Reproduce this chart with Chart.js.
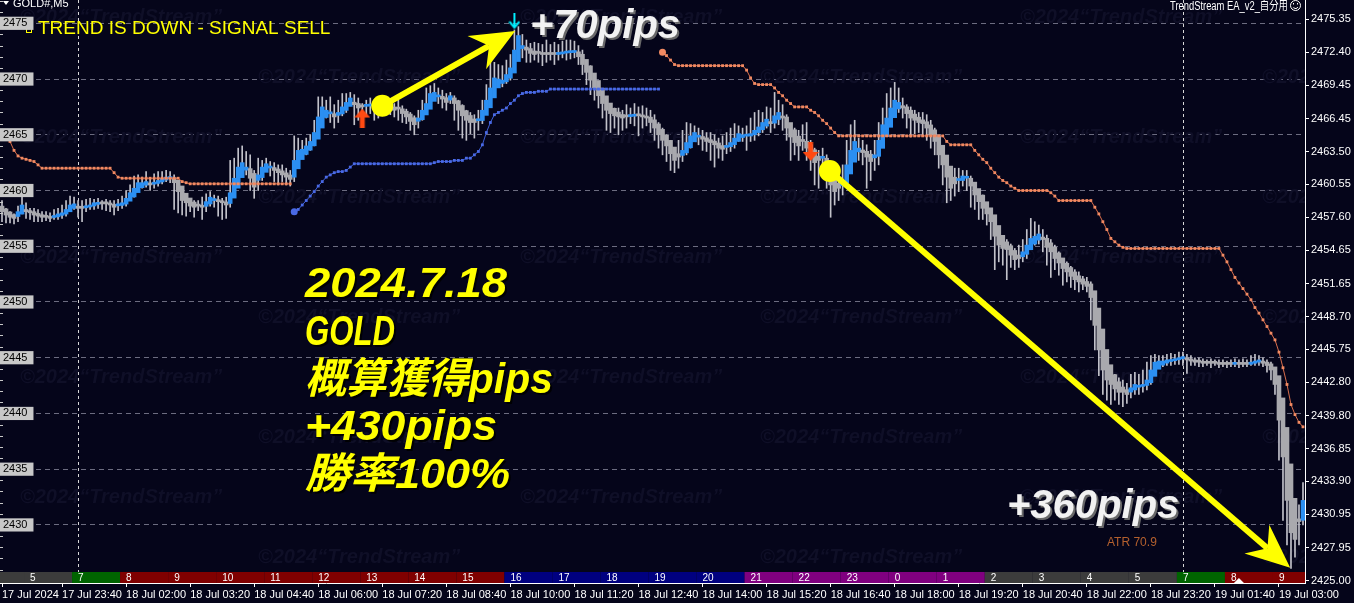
<!DOCTYPE html>
<html>
<head>
<meta charset="utf-8">
<script src="https://cdn.jsdelivr.net/npm/chart.js@4.4.1/dist/chart.umd.min.js"></script>
<style>
  html, body { margin: 0; padding: 0; background: #05051a; overflow: hidden; }
</style>
</head>
<body>
<canvas id="chart" width="1354" height="603"></canvas>
<script>
// GOLD#, M5 — 18 Jul 2024, one entry per 5-minute bar (Heiken-Ashi bodies)
const firstOpen = 2458.6;
const closes = [
  2458.1,2457.8,2457.6,2457.5,2458.1,2458.7,2458.1,2458.0,2457.8,2457.7,
  2457.6,2457.6,2457.5,2457.7,2457.9,2458.0,2458.3,2458.7,2458.8,2458.4,
  2458.4,2458.6,2458.7,2458.9,2458.9,2458.8,2458.8,2458.7,2458.5,2458.7,
  2458.9,2459.3,2459.8,2460.2,2460.7,2460.7,2460.8,2460.5,2460.7,2460.9,
  2461.1,2461.2,2461.2,2460.7,2459.9,2459.1,2458.9,2458.6,2458.5,2458.6,
  2458.5,2459.0,2459.4,2459.1,2459.0,2458.9,2458.7,2459.8,2461.1,2462.1,
  2462.5,2462.1,2461.1,2460.3,2461.4,2462.1,2462.4,2462.1,2461.8,2461.6,
  2461.4,2461.2,2461.0,2462.7,2463.6,2463.7,2464.0,2464.4,2465.2,2466.6,
  2467.5,2467.2,2466.9,2466.6,2467.0,2467.5,2467.9,2468.3,2467.7,2467.4,
  2467.5,2467.6,2467.7,2467.4,2467.2,2467.4,2467.6,2467.5,2467.2,2467.3,
  2466.9,2466.6,2466.2,2465.9,2466.5,2467.2,2467.8,2468.7,2468.8,2468.5,
  2468.2,2467.9,2468.5,2467.8,2467.2,2466.7,2466.3,2466.1,2466.1,2466.3,
  2467.2,2468.1,2469.2,2470.1,2470.0,2469.9,2470.4,2471.0,2472.6,2473.9,
  2473.0,2472.6,2472.3,2472.2,2472.3,2472.2,2472.2,2472.2,2472.2,2472.3,
  2472.4,2472.4,2472.4,2472.5,2472.0,2471.3,2470.6,2469.9,2469.2,2468.5,
  2467.8,2467.2,2466.9,2466.7,2466.6,2466.5,2466.6,2466.7,2466.8,2466.7,
  2466.6,2466.5,2466.1,2465.6,2465.0,2464.5,2464.0,2463.3,2462.7,2463.0,
  2463.6,2464.3,2464.9,2465.2,2464.9,2464.6,2464.4,2464.3,2464.1,2463.8,
  2463.7,2464.0,2464.3,2464.7,2465.1,2465.0,2464.9,2465.1,2465.4,2465.7,
  2466.1,2466.4,2466.0,2466.7,2467.0,2466.5,2465.6,2464.8,2464.3,2464.0,
  2464.4,2463.8,2463.2,2462.5,2462.7,2462.9,2461.8,2460.5,2459.9,2460.2,
  2460.9,2462.3,2463.6,2464.4,2463.8,2463.4,2463.0,2462.6,2463.2,2464.5,
  2465.9,2466.5,2467.4,2468.1,2467.9,2467.4,2466.9,2466.5,2466.3,2466.1,
  2466.0,2465.6,2465.0,2464.4,2463.2,2462.3,2461.2,2460.2,2460.6,2460.9,
  2461.3,2461.1,2460.4,2459.6,2459.0,2458.4,2457.9,2457.2,2455.9,2455.1,
  2454.8,2454.7,2454.2,2453.8,2453.9,2454.5,2455.1,2455.7,2455.9,2456.1,
  2455.6,2454.9,2454.5,2453.9,2453.5,2453.0,2452.7,2452.3,2452.0,2451.8,
  2451.6,2451.4,2450.4,2447.9,2445.7,2443.9,2443.0,2442.6,2442.2,2441.9,
  2441.9,2441.7,2442.3,2442.6,2442.5,2442.6,2443.0,2443.9,2444.6,2444.7,
  2444.7,2444.8,2444.8,2444.9,2445.0,2445.1,2444.8,2444.7,2444.6,2444.6,
  2444.5,2444.5,2444.5,2444.5,2444.4,2444.4,2444.4,2444.4,2444.5,2444.4,
  2444.4,2444.4,2444.6,2444.7,2444.8,2444.5,2444.3,2443.9,2442.6,2439.4,
  2436.1,2432.2,2429.3,2428.7,2430.3,2432.2
];
const highs = [
  2459.1,2458.4,2458.1,2457.9,2458.6,2460.3,2458.9,2458.4,2458.4,2458.3,
  2458.1,2458.1,2458.0,2458.3,2458.4,2458.7,2459.1,2459.5,2459.4,2459.1,
  2459.1,2459.2,2459.3,2459.2,2459.3,2459.1,2459.2,2459.1,2459.1,2459.2,
  2459.5,2460.0,2460.5,2461.3,2461.4,2461.2,2461.7,2461.1,2461.5,2461.7,
  2461.7,2461.8,2461.7,2461.4,2460.9,2460.0,2459.6,2459.3,2459.1,2459.1,
  2459.4,2459.7,2459.9,2459.6,2459.5,2459.3,2459.4,2462.7,2462.9,2463.8,
  2464.0,2463.5,2463.2,2461.8,2462.9,2462.7,2462.9,2462.6,2462.5,2462.3,
  2462.3,2462.0,2461.8,2464.9,2464.7,2464.5,2464.7,2465.0,2466.3,2468.4,
  2468.4,2468.1,2468.4,2467.7,2468.1,2468.7,2468.7,2468.8,2468.6,2468.3,
  2467.8,2468.1,2468.3,2468.1,2468.0,2467.9,2468.1,2468.0,2467.8,2468.1,
  2467.6,2467.3,2467.0,2466.7,2467.2,2468.1,2469.2,2469.4,2469.6,2469.2,
  2469.0,2468.7,2468.8,2468.5,2468.1,2467.7,2467.2,2467.0,2466.8,2467.2,
  2468.1,2469.5,2471.9,2471.5,2471.3,2471.2,2471.7,2472.2,2474.4,2474.7,
  2474.0,2473.5,2473.2,2473.3,2473.2,2473.1,2473.5,2473.1,2473.3,2473.1,
  2473.4,2473.5,2473.5,2473.4,2473.0,2472.6,2471.7,2471.2,2470.4,2469.5,
  2468.8,2468.1,2467.7,2467.4,2467.4,2467.2,2467.7,2467.4,2467.8,2467.5,
  2467.6,2467.4,2467.2,2466.8,2466.1,2465.6,2465.0,2464.5,2463.8,2464.5,
  2465.4,2466.1,2466.0,2465.8,2465.6,2465.4,2465.2,2465.2,2465.0,2464.7,
  2464.9,2465.2,2465.6,2466.0,2465.8,2465.6,2465.8,2466.5,2467.0,2467.2,
  2467.0,2467.5,2467.4,2468.8,2468.1,2467.7,2466.8,2465.9,2465.6,2465.4,
  2465.9,2466.1,2464.5,2463.8,2463.6,2463.8,2463.2,2462.3,2461.4,2461.8,
  2462.3,2464.5,2465.9,2466.3,2464.7,2464.5,2464.1,2463.6,2464.5,2466.1,
  2467.4,2468.7,2469.2,2469.7,2469.2,2468.3,2467.7,2467.5,2467.2,2467.0,
  2467.0,2466.8,2466.3,2465.6,2464.5,2463.6,2462.7,2461.4,2462.0,2462.0,
  2461.8,2461.8,2461.3,2460.5,2460.0,2459.6,2458.7,2458.3,2457.2,2456.3,
  2455.7,2455.6,2455.2,2454.8,2455.1,2455.6,2456.5,2457.5,2457.2,2456.9,
  2456.5,2456.0,2455.6,2455.1,2454.5,2453.9,2453.6,2453.2,2452.9,2452.7,
  2452.3,2452.2,2451.8,2450.5,2448.4,2446.1,2444.6,2443.7,2443.5,2443.2,
  2443.0,2442.7,2443.5,2443.7,2443.5,2443.9,2444.6,2445.2,2445.3,2445.2,
  2445.2,2445.3,2445.4,2445.3,2445.5,2445.5,2445.3,2445.2,2445.0,2445.0,
  2444.9,2444.8,2444.9,2444.8,2444.8,2444.8,2444.7,2444.8,2444.9,2444.8,
  2444.9,2444.8,2445.2,2445.3,2445.2,2445.0,2444.8,2444.6,2444.1,2443.0,
  2439.4,2436.3,2432.7,2430.4,2431.8,2433.8
];
const lows = [
  2457.2,2457.1,2457.1,2457.0,2457.2,2457.9,2457.5,2457.4,2457.2,2457.2,
  2457.2,2457.3,2457.2,2457.4,2457.4,2457.5,2457.7,2458.1,2458.3,2457.6,
  2457.2,2458.1,2458.3,2458.3,2458.4,2458.3,2458.2,2458.1,2457.8,2458.2,
  2458.4,2458.6,2459.1,2459.4,2459.9,2460.2,2460.3,2460.0,2460.2,2460.4,
  2460.6,2460.8,2460.7,2458.3,2458.0,2457.8,2457.7,2458.1,2457.6,2458.2,
  2457.4,2458.1,2458.6,2458.5,2457.7,2457.4,2457.5,2458.5,2459.5,2460.8,
  2461.7,2461.4,2460.0,2459.3,2460.0,2460.9,2461.7,2461.3,2460.8,2460.5,
  2460.8,2460.5,2460.4,2460.8,2462.3,2462.9,2463.2,2463.6,2464.0,2465.0,
  2466.3,2466.5,2466.1,2465.6,2466.1,2466.7,2467.0,2467.6,2465.9,2466.3,
  2466.5,2466.8,2466.9,2466.3,2466.5,2466.7,2466.9,2466.8,2466.6,2466.3,
  2466.1,2466.0,2465.4,2465.0,2465.6,2466.3,2467.0,2467.8,2468.3,2467.8,
  2467.4,2467.2,2467.8,2466.3,2465.4,2464.7,2464.5,2465.1,2464.7,2465.4,
  2466.0,2467.0,2467.9,2468.8,2469.3,2469.3,2469.6,2469.9,2470.6,2472.4,
  2471.9,2471.5,2471.5,2471.7,2471.5,2471.2,2471.5,2471.7,2471.3,2471.7,
  2471.9,2471.7,2471.8,2471.9,2471.3,2470.4,2469.5,2468.6,2468.1,2467.4,
  2466.5,2465.4,2465.2,2465.6,2465.0,2465.4,2465.6,2466.0,2465.8,2464.9,
  2465.6,2465.8,2465.2,2464.5,2463.8,2463.2,2462.6,2461.8,2461.6,2462.0,
  2462.6,2463.2,2463.8,2464.5,2464.1,2463.6,2463.5,2462.7,2462.1,2462.9,
  2462.7,2463.3,2463.5,2463.8,2464.4,2464.4,2463.6,2464.4,2464.5,2464.9,
  2465.2,2465.6,2465.2,2465.6,2465.9,2465.4,2464.5,2462.7,2463.2,2462.7,
  2463.6,2462.7,2461.8,2460.5,2460.2,2461.3,2460.2,2457.6,2458.7,2459.1,
  2459.6,2460.3,2461.8,2463.2,2462.7,2462.3,2460.2,2460.9,2461.8,2462.3,
  2464.1,2465.4,2465.9,2467.0,2467.0,2466.5,2465.6,2464.8,2465.1,2465.2,
  2464.9,2464.5,2463.8,2463.2,2462.0,2460.5,2458.9,2459.1,2459.5,2459.9,
  2460.4,2460.0,2458.5,2458.3,2457.4,2457.4,2456.9,2455.6,2452.9,2453.6,
  2453.3,2452.0,2453.1,2452.9,2453.1,2453.6,2453.9,2454.7,2455.1,2455.2,
  2454.5,2453.3,2452.2,2452.9,2452.4,2451.5,2451.8,2451.3,2451.1,2450.9,
  2451.1,2450.9,2448.4,2445.7,2443.4,2441.7,2441.2,2440.8,2441.2,2440.8,
  2440.6,2440.9,2441.4,2441.7,2441.7,2441.9,2442.1,2442.6,2443.7,2444.1,
  2444.2,2444.3,2444.3,2444.4,2444.4,2444.3,2443.6,2444.3,2444.3,2444.2,
  2444.2,2444.3,2444.1,2444.3,2444.1,2444.2,2444.1,2444.2,2444.2,2444.1,
  2444.2,2444.2,2444.3,2444.3,2444.3,2444.2,2443.7,2443.0,2441.7,2435.8,
  2430.4,2428.2,2426.1,2427.1,2428.2,2430.0
];

// trailing stop lines (dotted), each segment starts at the given bar
const sellStopStart1 = 0;
const sellStop1 = [
  2464.9,2464.6,2464.4,2463.6,2463.1,2462.9,2462.8,2462.7,2462.6,2462.3,
  2462.0,2462.0,2462.0,2462.0,2462.0,2462.0,2462.0,2462.0,2462.0,2462.0,
  2462.0,2462.0,2462.0,2462.0,2462.0,2462.0,2462.0,2462.0,2461.6,2461.2,
  2461.1,2461.1,2461.1,2461.1,2461.1,2461.1,2461.1,2461.1,2461.1,2461.1,
  2461.1,2461.1,2461.1,2461.1,2461.1,2460.8,2460.7,2460.6,2460.6,2460.6,
  2460.6,2460.6,2460.6,2460.6,2460.6,2460.6,2460.6,2460.6,2460.6,2460.6,
  2460.6,2460.6,2460.6,2460.6,2460.6,2460.6,2460.6,2460.6,2460.6,2460.6,
  2460.6,2460.6,2460.6
];
const buyStopStart = 73;
const buyStop = [
  2458.1,2458.3,2458.7,2459.1,2459.5,2459.9,2460.4,2460.8,2461.2,2461.4,
  2461.6,2461.7,2461.7,2461.8,2462.1,2462.4,2462.4,2462.4,2462.4,2462.4,
  2462.4,2462.4,2462.4,2462.4,2462.4,2462.4,2462.4,2462.4,2462.4,2462.4,
  2462.4,2462.4,2462.4,2462.4,2462.4,2462.5,2462.6,2462.6,2462.6,2462.6,
  2462.7,2462.7,2462.7,2462.9,2462.9,2463.2,2463.5,2464.1,2465.2,2466.1,
  2466.8,2467.0,2467.2,2467.4,2467.8,2468.1,2468.5,2468.7,2468.8,2468.8,
  2468.8,2468.9,2468.9,2468.9,2469.1,2469.1,2469.1,2469.1,2469.1,2469.1,
  2469.1,2469.1,2469.1,2469.1,2469.1,2469.1,2469.1,2469.1,2469.1,2469.1,
  2469.1,2469.1,2469.1,2469.1,2469.1,2469.1,2469.1,2469.1,2469.1,2469.1,
  2469.1,2469.1
];
const sellStopStart2 = 165;
const sellStop2 = [
  2472.4,2472.1,2471.7,2471.3,2471.2,2471.2,2471.2,2471.2,2471.2,2471.2,
  2471.2,2471.2,2471.2,2471.2,2471.2,2471.2,2471.2,2471.2,2471.2,2471.2,
  2471.2,2470.8,2470.1,2469.6,2469.5,2469.5,2469.5,2469.5,2469.2,2468.8,
  2468.5,2468.1,2467.8,2467.5,2467.5,2467.5,2467.5,2467.2,2467.0,2466.7,
  2466.3,2466.0,2465.6,2465.2,2464.9,2464.9,2464.9,2464.9,2464.9,2464.9,
  2464.9,2464.9,2464.9,2464.9,2464.9,2464.9,2464.9,2464.9,2464.9,2464.9,
  2464.9,2464.9,2464.9,2464.9,2464.9,2464.9,2464.9,2464.9,2464.9,2464.9,
  2464.9,2464.4,2464.1,2464.1,2464.1,2464.1,2464.1,2464.1,2463.6,2463.2,
  2462.8,2462.5,2462.0,2461.6,2461.2,2460.9,2460.7,2460.4,2460.2,2460.0,
  2460.0,2460.0,2460.0,2460.0,2460.0,2460.0,2460.0,2459.8,2459.5,2459.1,
  2459.1,2459.1,2459.1,2459.1,2459.1,2459.1,2459.1,2459.1,2458.5,2457.9,
  2457.2,2456.5,2455.7,2455.4,2455.1,2454.9,2454.8,2454.8,2454.8,2454.8,
  2454.8,2454.8,2454.8,2454.8,2454.8,2454.8,2454.8,2454.8,2454.8,2454.8,
  2454.8,2454.8,2454.8,2454.8,2454.8,2454.8,2454.8,2454.8,2454.8,2454.8,
  2454.2,2453.6,2452.9,2452.2,2451.7,2451.2,2450.7,2450.2,2449.5,2449.0,
  2448.4,2447.8,2447.2,2446.6,2445.5,2444.1,2442.6,2440.8,2439.9,2439.2,
  2438.8
];

// signal arrows
const buySignals = [{ bar: 90, price: 2466.5 }];
const sellSignals = [{ bar: 202, price: 2463.5 }];
const exitSignals = [{ bar: 128, price: 2475.2 }];

// yellow trade arrows (from entry circle to exit)
const trades = [
  { from: [95, 2467.6], to: [128.2, 2474.3] },
  { from: [206.8, 2461.75], to: [321.8, 2426.15] }
];

// captions: text and the width each one spans on the picture
const captions = ['2024.7.18', 'GOLD', '概算獲得pips', '+430pips', '勝率100%'];
const captionWidths = [202, 90, 248, 192, 205];

// axes
const yMin = 2424.79, yMax = 2477.09;
const rightTicks = [2425.00, 2427.95, 2430.95, 2433.90, 2436.85, 2439.80, 2442.80, 2445.75, 2448.70,
  2451.65, 2454.65, 2457.60, 2460.55, 2463.50, 2466.45, 2469.45, 2472.40, 2475.35];
const leftTicks = [2430, 2435, 2440, 2445, 2450, 2455, 2460, 2465, 2470, 2475];
const tickBars = [0, 15, 31, 47, 63, 79, 95, 111, 127, 143, 159, 175, 191, 207, 223, 239, 255, 271, 287, 303, 319];
const tickLabels = ['17 Jul 2024', '17 Jul 23:40', '18 Jul 02:00', '18 Jul 03:20', '18 Jul 04:40', '18 Jul 06:00',
  '18 Jul 07:20', '18 Jul 08:40', '18 Jul 10:00', '18 Jul 11:20', '18 Jul 12:40', '18 Jul 14:00', '18 Jul 15:20',
  '18 Jul 16:40', '18 Jul 18:00', '18 Jul 19:20', '18 Jul 20:40', '18 Jul 22:00', '18 Jul 23:20', '19 Jul 01:40',
  '19 Jul 03:00'];
const daySeparators = [19, 295];

// session strip: one hour = 12 bars, first cell starts at bar -6
const hourStartBar = -6;
const hours = ['4', '5', '7', '8', '9', '10', '11', '12', '13', '14', '15', '16', '17', '18', '19', '20',
  '21', '22', '23', '0', '1', '2', '3', '4', '5', '7', '8', '9'];
const sessionColors = {
  '2': '#3c3c3c', '3': '#3c3c3c', '4': '#3c3c3c', '5': '#3c3c3c', '7': '#006400',
  '8': '#800000', '9': '#800000', '10': '#800000', '11': '#800000', '12': '#800000', '13': '#800000', '14': '#800000', '15': '#800000',
  '16': '#000080', '17': '#000080', '18': '#000080', '19': '#000080', '20': '#000080',
  '21': '#800080', '22': '#800080', '23': '#800080', '0': '#800080', '1': '#800080'
};

const BG = '#05051a';
const UP = '#2b8ff2';
const DOWN = '#a9a9ae';
const WICK = '#c2c2ca';
const FONT = '"Liberation Sans", "Noto Sans CJK JP", sans-serif';

const N = closes.length;
const labels = closes.map((c, i) => String(i));
// Heiken-Ashi open: midpoint of the previous body
const opens = [firstOpen];
for (let i = 1; i < N; i++) opens.push((opens[i - 1] + closes[i - 1]) / 2);

function segment(start, values) {
  const out = new Array(N).fill(null);
  values.forEach((v, i) => { out[start + i] = v; });
  return out;
}
function signalData(list) {
  const out = new Array(N).fill(null);
  list.forEach(s => { out[s.bar] = s.price; });
  return out;
}
function arrowImage(color, dir) {
  const c = document.createElement('canvas');
  c.width = 16; c.height = 19;
  const g = c.getContext('2d');
  g.fillStyle = color;
  g.beginPath();
  if (dir === 'up') {
    g.moveTo(8, 0); g.lineTo(16, 9); g.lineTo(10.5, 9); g.lineTo(10.5, 19); g.lineTo(5.5, 19); g.lineTo(5.5, 9); g.lineTo(0, 9);
  } else {
    g.moveTo(8, 19); g.lineTo(16, 10); g.lineTo(10.5, 10); g.lineTo(10.5, 0); g.lineTo(5.5, 0); g.lineTo(5.5, 10); g.lineTo(0, 10);
  }
  g.closePath();
  g.fill();
  return c;
}
function thinArrowImage(color) {
  const c = document.createElement('canvas');
  c.width = 12; c.height = 17;
  const g = c.getContext('2d');
  g.strokeStyle = color; g.lineWidth = 2;
  g.beginPath(); g.moveTo(6, 0); g.lineTo(6, 15); g.stroke();
  g.beginPath(); g.moveTo(1, 9); g.lineTo(6, 15); g.lineTo(11, 9); g.stroke();
  return c;
}
// draw text squeezed or stretched to a given width
function fitText(ctx, s, x, y, w) {
  const m = ctx.measureText(s).width;
  ctx.save();
  ctx.translate(x, y);
  ctx.scale(w / m, 1);
  ctx.fillText(s, 0, 0);
  ctx.restore();
}

const sellStop = segment(sellStopStart1, sellStop1);
sellStop2.forEach((v, i) => { sellStop[sellStopStart2 + i] = v; });
const buyStopData = segment(buyStopStart, buyStop);
const lineStarts = [sellStopStart2, buyStopStart];

function stopLine(data, line, dot) {
  return {
    type: 'line', data, yAxisID: 'y', order: 0,
    borderColor: line, borderWidth: 1, spanGaps: false,
    pointStyle: c => (lineStarts.includes(c.dataIndex) ? 'circle' : 'rect'),
    pointRadius: c => (lineStarts.includes(c.dataIndex) ? 3.5 : 2),
    pointBackgroundColor: dot, pointBorderWidth: 0
  };
}
function noPadding(s) {
  s.paddingTop = 0; s.paddingBottom = 0; s.paddingLeft = 0; s.paddingRight = 0;
}

const overlay = {
  id: 'overlay',
  beforeDraw(chart) {
    const { ctx, width, height } = chart;
    ctx.save();
    ctx.fillStyle = BG;
    ctx.fillRect(0, 0, width, height);
    ctx.restore();
  },
  beforeDatasetsDraw(chart) {
    const { ctx, chartArea: a, scales: { x } } = chart;
    ctx.save();
    ctx.beginPath();
    ctx.rect(a.left, a.top, a.right - a.left, a.bottom - a.top);
    ctx.clip();
    // faint watermark
    ctx.font = 'italic bold 20px ' + FONT;
    ctx.fillStyle = '#0f0f27';
    ctx.textBaseline = 'middle';
    for (let r = 0; r < 10; r++) {
      const cols = r % 2 ? [258, 760, 1262] : [20, 520, 1020];
      cols.forEach(cx => ctx.fillText('©2024“TrendStream”', cx, 17 + 60 * r));
    }
    // day separators
    ctx.strokeStyle = '#d8d8d8';
    ctx.lineWidth = 1;
    ctx.setLineDash([3, 3]);
    daySeparators.forEach(b => {
      const px = Math.round(x.getPixelForValue(b)) + 0.5;
      ctx.beginPath(); ctx.moveTo(px, a.top); ctx.lineTo(px, a.bottom); ctx.stroke();
    });
    ctx.restore();
  },
  afterDatasetsDraw(chart) {
    const { ctx, chartArea: a, scales: { x, y } } = chart;
    ctx.save();

    // session strip
    const stripTop = a.bottom - 11;
    ctx.font = '10px ' + FONT;
    ctx.textBaseline = 'alphabetic';
    hours.forEach((h, k) => {
      const b0 = hourStartBar + 12 * k;
      const x0 = Math.max(a.left, x.getPixelForValue(b0 - 0.5));
      const x1 = Math.min(a.right, x.getPixelForValue(b0 + 11.5));
      if (x1 <= x0) return;
      ctx.fillStyle = sessionColors[h];
      ctx.fillRect(x0, stripTop, x1 - x0, 11);
      const lx = x.getPixelForValue(b0 - 0.5) + 6;
      if (lx > a.left && lx < a.right - 4) {
        ctx.fillStyle = '#ffffff';
        ctx.fillText(h, lx, a.bottom - 2);
      }
    });
    // chart-shift marker
    const sx = x.getPixelForValue(309);
    ctx.fillStyle = '#ffffff';
    ctx.beginPath(); ctx.moveTo(sx - 5, a.bottom); ctx.lineTo(sx + 5, a.bottom); ctx.lineTo(sx, a.bottom - 5); ctx.closePath(); ctx.fill();

    // minor price ticks on the left edge
    ctx.strokeStyle = '#c8c8c8';
    ctx.lineWidth = 1;
    for (let p = Math.ceil(yMin); p <= yMax; p++) {
      const py = Math.round(y.getPixelForValue(p)) + 0.5;
      if (py > stripTop) continue;
      ctx.beginPath(); ctx.moveTo(a.left, py); ctx.lineTo(a.left + 3, py); ctx.stroke();
    }

    // yellow trade arrows
    ctx.fillStyle = '#ffff00';
    ctx.strokeStyle = '#ffff00';
    trades.forEach(t => {
      const x0 = x.getPixelForValue(t.from[0]), y0 = y.getPixelForValue(t.from[1]);
      const x1 = x.getPixelForValue(t.to[0]), y1 = y.getPixelForValue(t.to[1]);
      const ang = Math.atan2(y1 - y0, x1 - x0);
      const ux = Math.cos(ang), uy = Math.sin(ang), nx = -uy, ny = ux;
      const L = 44, W = 19, notch = 30;
      ctx.lineWidth = 6;
      ctx.beginPath(); ctx.moveTo(x0, y0); ctx.lineTo(x1 - ux * notch, y1 - uy * notch); ctx.stroke();
      ctx.beginPath();
      ctx.moveTo(x1, y1);
      ctx.lineTo(x1 - ux * L + nx * W, y1 - uy * L + ny * W);
      ctx.lineTo(x1 - ux * notch, y1 - uy * notch);
      ctx.lineTo(x1 - ux * L - nx * W, y1 - uy * L - ny * W);
      ctx.closePath(); ctx.fill();
      ctx.beginPath(); ctx.arc(x0, y0, 11, 0, Math.PI * 2); ctx.fill();
    });

    // header texts
    ctx.fillStyle = '#ffffff';
    ctx.font = '11px ' + FONT;
    ctx.beginPath(); ctx.moveTo(3, 1); ctx.lineTo(9, 1); ctx.lineTo(6, 5); ctx.closePath(); ctx.fill();
    ctx.fillText('GOLD#,M5', 13, 7);
    ctx.font = '12px ' + FONT;
    fitText(ctx, 'TrendStream EA_v2_自分用', 1170, 10, 118);
    ctx.strokeStyle = '#ffffff'; ctx.lineWidth = 1;
    ctx.beginPath(); ctx.arc(1295.5, 5.5, 5, 0, Math.PI * 2); ctx.stroke();
    ctx.beginPath(); ctx.arc(1295.5, 5.5, 3, 0.2 * Math.PI, 0.8 * Math.PI); ctx.stroke();
    ctx.fillRect(1293, 3, 1, 1.5); ctx.fillRect(1297, 3, 1, 1.5);

    ctx.fillStyle = '#ffff00';
    ctx.strokeStyle = '#ffff00';
    ctx.font = '19px ' + FONT;
    ctx.fillText('TREND IS DOWN - SIGNAL SELL', 38, 34);
    ctx.strokeRect(26.5, 27.5, 5, 5);

    ctx.fillStyle = '#b4602e';
    ctx.font = '12px ' + FONT;
    ctx.fillText('ATR 70.9', 1107, 546);

    // big captions
    ctx.shadowColor = 'rgba(0,0,0,0.9)';
    ctx.shadowOffsetX = 2; ctx.shadowOffsetY = 2;
    ctx.fillStyle = '#ffff00';
    ctx.font = 'italic bold 42px ' + FONT;
    captions.forEach((s, i) => fitText(ctx, s, 305, 297 + 47.8 * i, captionWidths[i]));
    ctx.shadowColor = 'rgba(110,110,110,0.95)';
    ctx.fillStyle = '#f2f2f2';
    ctx.font = 'italic bold 40px ' + FONT;
    ctx.fillText('+70pips', 530, 38);
    ctx.fillText('+360pips', 1007, 518);
    ctx.restore();
  }
};

new Chart(document.getElementById('chart'), {
  type: 'bar',
  data: {
    labels,
    datasets: [
      stopLine(sellStop, '#d96e4c', '#f28a62'),
      stopLine(buyStopData, '#3d5ed6', '#4a6ae6'),
      {
        type: 'line', data: signalData(buySignals), showLine: false, order: 0,
        pointStyle: arrowImage('#ff4a12', 'up')
      },
      {
        type: 'line', data: signalData(sellSignals), showLine: false, order: 0,
        pointStyle: arrowImage('#ff4a12', 'down')
      },
      {
        type: 'line', data: signalData(exitSignals), showLine: false, order: 0,
        pointStyle: thinArrowImage('#00f0ff')
      },
      {
        data: closes.map((c, i) => [opens[i], c]),
        backgroundColor: closes.map((c, i) => (c >= opens[i] ? UP : DOWN)),
        barThickness: 4, minBarLength: 2, grouped: false, order: 1
      },
      {
        data: lows.map((l, i) => [l, highs[i]]),
        backgroundColor: WICK,
        barThickness: 1, grouped: false, order: 3
      }
    ]
  },
  options: {
    responsive: false,
    animation: false,
    events: [],
    layout: { padding: 0, autoPadding: false },
    plugins: { legend: { display: false }, tooltip: { enabled: false } },
    scales: {
      x: {
        type: 'category', offset: true,
        grid: { display: true, drawOnChartArea: false, drawTicks: true, tickLength: 4, color: '#ffffff', offset: false },
        border: { display: true, color: '#ffffff', width: 1 },
        afterBuildTicks: s => { s.ticks = tickBars.map(b => ({ value: b })); },
        ticks: {
          autoSkip: false, maxRotation: 0, minRotation: 0, align: 'start', padding: 1,
          color: '#ffffff', font: { family: FONT, size: 11 },
          callback: v => tickLabels[tickBars.indexOf(v)]
        },
        afterFit: s => { s.height = 20; noPadding(s); }
      },
      y: {
        position: 'right', min: yMin, max: yMax,
        afterBuildTicks: s => { s.ticks = rightTicks.map(v => ({ value: v })); },
        ticks: { color: '#ffffff', padding: 2, font: { family: FONT, size: 11 }, callback: v => v.toFixed(2) },
        grid: { drawOnChartArea: false, drawTicks: true, tickLength: 4, color: '#ffffff' },
        border: { display: true, color: '#ffffff', width: 1 },
        afterFit: s => { s.width = 49; noPadding(s); }
      },
      yL: {
        position: 'left', min: yMin, max: yMax,
        afterBuildTicks: s => { s.ticks = leftTicks.map(v => ({ value: v })); },
        ticks: {
          mirror: true, padding: 3, z: 1, color: '#000000', font: { family: FONT, size: 11 },
          showLabelBackdrop: true, backdropColor: '#c8c8c8',
          backdropPadding: { left: 3, right: 6, top: 0, bottom: 0 },
          callback: v => String(v)
        },
        grid: { drawOnChartArea: true, drawTicks: false, color: '#6c6c80', borderDash: [5, 4] },
        border: { display: false, dash: [5, 4] },
        afterFit: s => { s.width = 0; noPadding(s); }
      }
    }
  },
  plugins: [overlay]
});
</script>
</body>
</html>
